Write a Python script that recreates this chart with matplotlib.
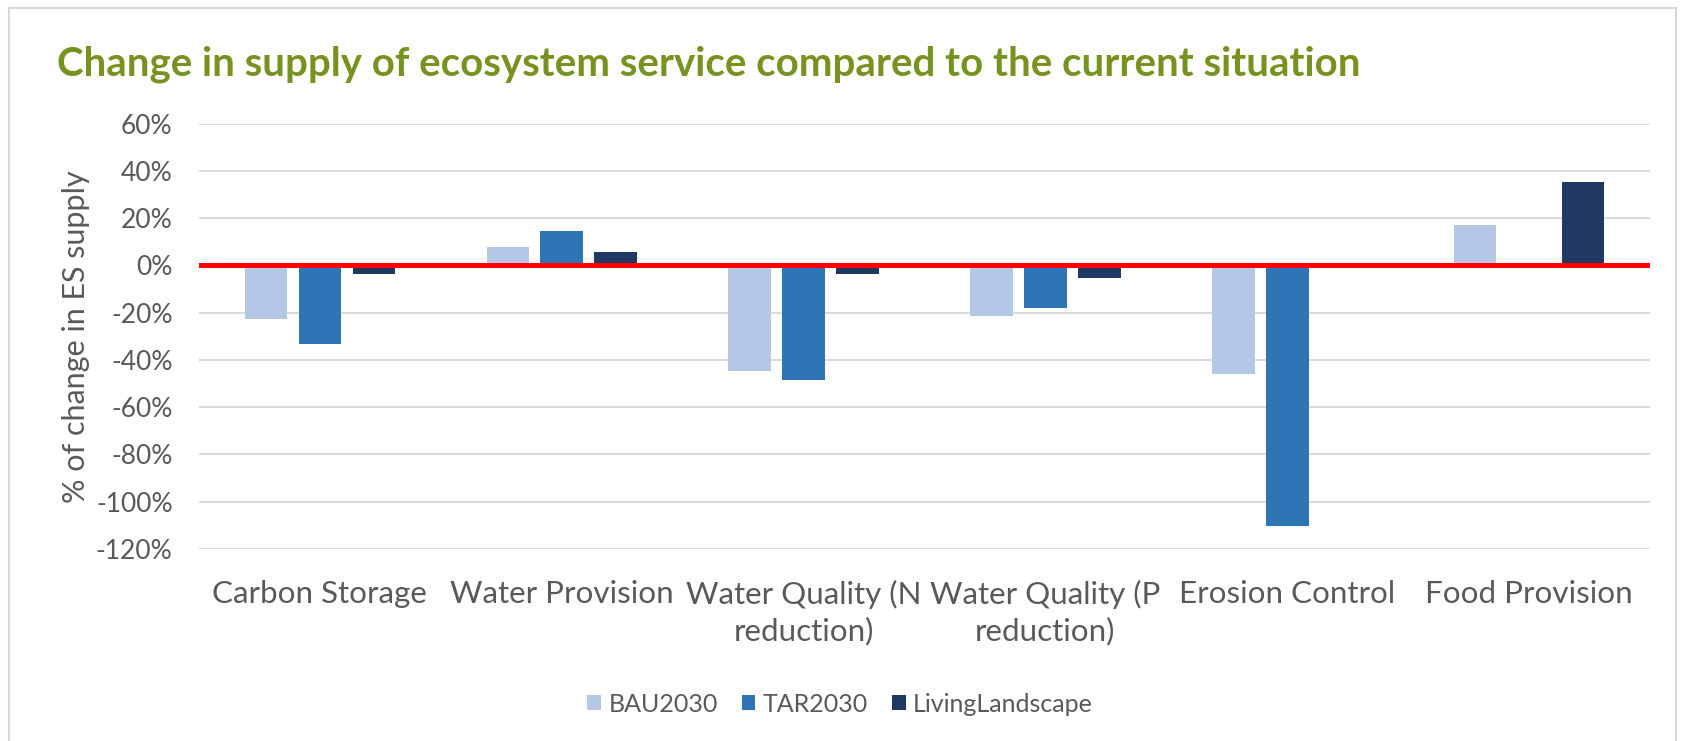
"""Change in supply of ecosystem services vs. the current situation."""

import matplotlib
matplotlib.use("Agg")
import matplotlib.pyplot as plt
from matplotlib.lines import Line2D
from matplotlib.patches import Patch
import numpy as np

categories = ["Carbon Storage", "Water Provision", "Water Quality (N\nreduction)",
              "Water Quality (P\nreduction)", "Erosion Control", "Food Provision"]
series_names = ["BAU2030", "TAR2030", "LivingLandscape"]
bau2030 = [-22.6, 7.6, -44.5, -21.4, -45.9, 17.1]
tar2030 = [-33.3, 14.4, -48.5, -18.2, -110.2, np.nan]
living_landscape = [-3.7, 5.5, -3.7, -5.5, np.nan, 35.5]
y_ticks = [60, 40, 20, 0, -20, -40, -60, -80, -100, -120]

colors = ["#B4C7E7", "#2E75B6", "#203864"]
grey = "#595959"
font = ["Lato", "DejaVu Sans"]

plt.rcParams["font.family"] = font

W, H = 1685, 741
fig = plt.figure(figsize=(W / 100, H / 100), dpi=100)
ax = fig.add_axes([199 / W, 1 - 549 / H, (1650 - 199) / W, (549 - 123.6) / H])

x = np.arange(len(categories))
offsets = [-0.223, 0.0, 0.223]
for vals, off, col in zip([bau2030, tar2030, living_landscape], offsets, colors):
    ax.bar(x + off, vals, width=0.176, color=col, zorder=2)

ax.set_xlim(-0.5, len(categories) - 0.5)
ax.set_ylim(-120, 60)
ax.set_yticks(y_ticks)
ax.set_yticklabels([f"{t}%" for t in y_ticks])
ax.yaxis.grid(True, color="#D9D9D9", linewidth=1.4, zorder=0)
ax.set_axisbelow(True)
ax.axhline(0, color="#FF0000", linewidth=3.6, zorder=3)
for s in ax.spines.values():
    s.set_visible(False)
ax.tick_params(axis="y", length=0, pad=19, labelsize=19, labelcolor=grey)
ax.tick_params(axis="x", length=0, pad=22, labelsize=22.6, labelcolor=grey)
ax.set_xticks(x)
ax.set_xticklabels(categories, linespacing=1.35)
ax.set_ylabel("% of change in ES supply", fontsize=22, color=grey, labelpad=4)

fig.text(57 / W, 1 - 64.5 / H, "Change in supply of ecosystem service compared to the current situation",
         fontsize=29, fontweight="bold", color="#76921F", va="center", ha="left")

handles = [Patch(facecolor=c, edgecolor="none") for c in colors]
fig.legend(handles, series_names, loc="center", bbox_to_anchor=(840 / W, 1 - 704 / H),
           ncol=3, frameon=False, fontsize=18, labelcolor=grey,
           handlelength=0.55, handleheight=0.55, handletextpad=0.3, columnspacing=0.95)

# light frame around the chart area
frame_kw = dict(color="#D9D9D9", linewidth=1.5, transform=fig.transFigure)
fig.add_artist(Line2D([9 / W, 9 / W], [0, 1 - 8 / H], **frame_kw))
fig.add_artist(Line2D([9 / W, 1676 / W], [1 - 8 / H, 1 - 8 / H], **frame_kw))
fig.add_artist(Line2D([1676 / W, 1676 / W], [0, 1 - 8 / H], **frame_kw))

fig.savefig("out.png", dpi=100)
